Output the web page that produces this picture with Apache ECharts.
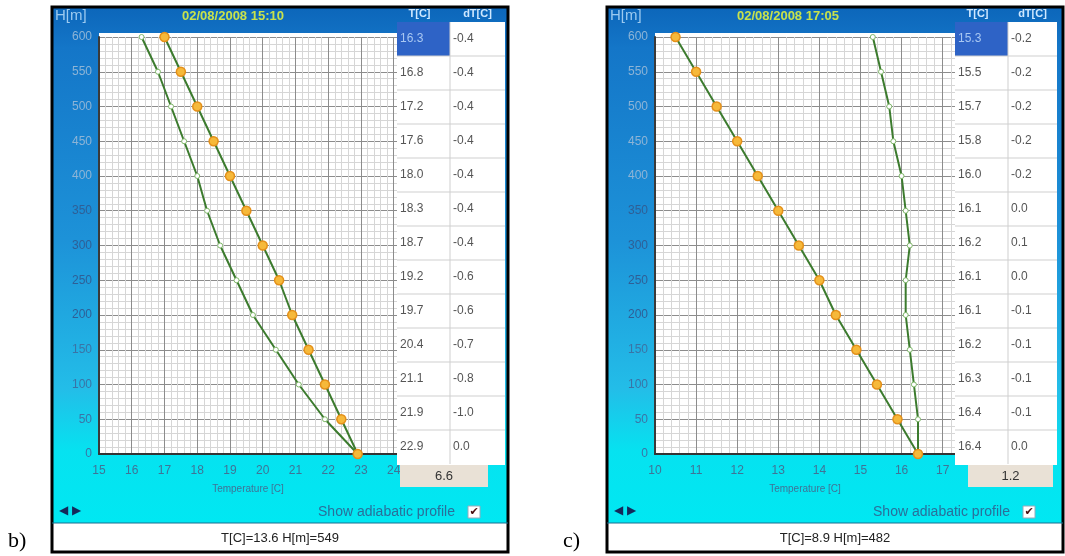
<!DOCTYPE html>
<html>
<head>
<meta charset="utf-8">
<script src="https://cdn.jsdelivr.net/npm/echarts@6/dist/echarts.min.js"></script>
<style>
  html, body { margin: 0; padding: 0; background: #fff; }
  #chart { width: 1065px; height: 556px; }
</style>
</head>
<body>
<div id="chart"></div>
<script>
// heights of the profile levels, bottom to top
const heights = [0, 50, 100, 150, 200, 250, 300, 350, 400, 450, 500, 550, 600]

// panel b) 02/08/2008 15:10
const tempB = [22.9, 21.9, 21.1, 20.4, 19.7, 19.2, 18.7, 18.3, 18.0, 17.6, 17.2, 16.8, 16.3]
const adiaB = [22.9, 22.4, 21.9, 21.4, 20.9, 20.5, 20.0, 19.5, 19.0, 18.5, 18.0, 17.5, 17.0]
const dTB = ['0.0', '-1.0', '-0.8', '-0.7', '-0.6', '-0.6', '-0.4', '-0.4', '-0.4', '-0.4', '-0.4', '-0.4', '-0.4']
const xTicksB = [15, 16, 17, 18, 19, 20, 21, 22, 23, 24]

// panel c) 02/08/2008 17:05
const tempC = [16.4, 16.4, 16.3, 16.2, 16.1, 16.1, 16.2, 16.1, 16.0, 15.8, 15.7, 15.5, 15.3]
const adiaC = [16.4, 15.9, 15.4, 14.9, 14.4, 14.0, 13.5, 13.0, 12.5, 12.0, 11.5, 11.0, 10.5]
const dTC = ['0.0', '-0.1', '-0.1', '-0.1', '-0.1', '0.0', '0.1', '0.0', '-0.2', '-0.2', '-0.2', '-0.2', '-0.2']
const xTicksC = [10, 11, 12, 13, 14, 15, 16, 17]

const panels = [
  { tag: 'b)', title: '02/08/2008 15:10', status: 'T[C]=13.6 H[m]=549', spread: '6.6',
    temp: tempB, adia: adiaB, dT: dTB, ticks: xTicksB, xMax: 24.1,
    frame: 52, plotLeft: 99, plotW: 298, tableX: 397, col1: 53, col2: 55, boxX: 400, boxW: 88 },
  { tag: 'c)', title: '02/08/2008 17:05', status: 'T[C]=8.9 H[m]=482', spread: '1.2',
    temp: tempC, adia: adiaC, dT: dTC, ticks: xTicksC, xMax: 17.3,
    frame: 607, plotLeft: 655, plotW: 300, tableX: 955, col1: 53, col2: 49, boxX: 968, boxW: 85 }
]

const font = 'Liberation Sans, Arial, sans-serif'
const lineGreen = '#3c7b2e'
const panelW = 456
const rowTop = 22
const rowH = 34

// height labels go from pale blue (top, on dark blue) to steel blue (bottom, on cyan)
function heightLabelColor(v) {
  return v >= 400 ? '#8db4d6' : v >= 200 ? '#2f5f96' : '#3a74a6'
}

const chart = echarts.init(document.getElementById('chart'))

const grids = []
const xAxes = []
const yAxes = []
const series = []
const graphics = []

panels.forEach((p, i) => {
  grids.push({
    left: p.plotLeft, top: 37, width: p.plotW, height: 417,
    show: true, backgroundColor: '#fff', borderWidth: 0
  })
  xAxes.push({
    gridIndex: i, type: 'value', min: p.ticks[0], max: p.xMax, interval: 1,
    name: 'Temperature [C]', nameLocation: 'middle', nameGap: 30,
    nameTextStyle: { color: '#3f7396', fontSize: 10, fontFamily: font },
    axisLine: { show: true, onZero: false, lineStyle: { color: '#333', width: 2 } },
    axisTick: { show: false },
    axisLabel: { color: '#3f7396', fontSize: 12, fontFamily: font, margin: 11, showMaxLabel: false },
    splitLine: { show: true, lineStyle: { color: '#8c8c8c', width: 1 } },
    minorTick: { show: false, splitNumber: 5 },
    minorSplitLine: { show: true, lineStyle: { color: '#d6d6d6', width: 1 } }
  })
  yAxes.push({
    gridIndex: i, type: 'value', min: 0, max: 600, interval: 50,
    axisLine: { show: true, lineStyle: { color: '#3a3a3a', width: 2 } },
    axisTick: { show: false },
    axisLabel: { color: heightLabelColor, fontSize: 12, fontFamily: font, margin: 7 },
    splitLine: { show: true, lineStyle: { color: '#8c8c8c', width: 1 } },
    minorTick: { show: false, splitNumber: 5 },
    minorSplitLine: { show: true, lineStyle: { color: '#d6d6d6', width: 1 } }
  })

  series.push({
    type: 'line', xAxisIndex: i, yAxisIndex: i,
    data: heights.map((h, k) => [p.adia[k], h]),
    symbol: 'circle', symbolSize: 9,
    itemStyle: { color: '#f6b93a', borderColor: '#e4901a', borderWidth: 1.5 },
    lineStyle: { color: lineGreen, width: 2 },
    animation: false, z: 3
  })
  series.push({
    type: 'line', xAxisIndex: i, yAxisIndex: i,
    data: heights.map((h, k) => [p.temp[k], h]),
    symbol: 'circle', symbolSize: 5,
    itemStyle: { color: '#fff', borderColor: '#7fb86a', borderWidth: 1 },
    lineStyle: { color: lineGreen, width: 2 },
    animation: false, z: 2
  })

  const fx = p.frame
  // panel background
  graphics.push({
    type: 'rect', z: -10,
    shape: { x: fx, y: 7, width: panelW, height: 516 },
    style: {
      fill: new echarts.graphic.LinearGradient(0, 0, 0, 1, [
        { offset: 0, color: '#0c66ba' },
        { offset: 0.08, color: '#1476c8' },
        { offset: 0.45, color: '#1d92d8' },
        { offset: 0.74, color: '#23bde8' },
        { offset: 0.86, color: '#06e2f0' },
        { offset: 1, color: '#00e8f2' }
      ])
    }
  })
  graphics.push({
    type: 'rect', z: -9,
    shape: { x: p.plotLeft, y: 33, width: p.plotW, height: 5 },
    style: { fill: '#fff' }
  })
  // status bar
  graphics.push({
    type: 'rect', z: -10,
    shape: { x: fx, y: 523, width: panelW, height: 29 },
    style: { fill: '#fff' }
  })
  graphics.push({
    type: 'text', z: 50, x: fx + panelW / 2, y: 538,
    style: { text: p.status, font: '13px ' + font, fill: '#222', align: 'center', verticalAlign: 'middle' }
  })
  // header texts
  graphics.push({
    type: 'text', z: 50, x: fx + 3, y: 16,
    style: { text: 'H[m]', font: '15px ' + font, fill: '#9ccaf0', verticalAlign: 'middle' }
  })
  graphics.push({
    type: 'text', z: 50, x: fx + 181, y: 16,
    style: { text: p.title, font: 'bold 13px ' + font, fill: '#c8e24c', align: 'center', verticalAlign: 'middle' }
  })
  graphics.push({
    type: 'text', z: 50, x: p.tableX + p.col1 / 2 - 4, y: 14,
    style: { text: 'T[C]', font: 'bold 11px ' + font, fill: '#cfe8ff', align: 'center', verticalAlign: 'middle' }
  })
  graphics.push({
    type: 'text', z: 50, x: p.tableX + p.col1 + p.col2 / 2, y: 14,
    style: { text: 'dT[C]', font: 'bold 11px ' + font, fill: '#cfe8ff', align: 'center', verticalAlign: 'middle' }
  })

  // table on the right
  const tw = p.col1 + p.col2
  graphics.push({
    type: 'rect', z: 40,
    shape: { x: p.tableX, y: rowTop, width: tw, height: rowH * 13 + 1 },
    style: { fill: '#fff' }
  })
  graphics.push({
    type: 'rect', z: 41,
    shape: { x: p.tableX, y: rowTop, width: p.col1, height: rowH },
    style: { fill: '#2e63c6' }
  })
  for (let r = 0; r < 13; r++) {
    const k = 12 - r
    const cy = rowTop + rowH * r + 17
    if (r < 12) {
      graphics.push({
        type: 'line', z: 42,
        shape: { x1: p.tableX, y1: rowTop + rowH * (r + 1), x2: p.tableX + tw, y2: rowTop + rowH * (r + 1) },
        style: { stroke: '#cfcfcf', lineWidth: 1 }
      })
    }
    graphics.push({
      type: 'text', z: 43, x: p.tableX + 3, y: cy,
      style: { text: p.temp[k].toFixed(1), font: '12px ' + font, fill: r === 0 ? '#a9c8f2' : '#555', verticalAlign: 'middle' }
    })
    graphics.push({
      type: 'text', z: 43, x: p.tableX + p.col1 + 3, y: cy,
      style: { text: p.dT[k], font: '12px ' + font, fill: '#555', verticalAlign: 'middle' }
    })
  }
  graphics.push({
    type: 'line', z: 42,
    shape: { x1: p.tableX + p.col1, y1: rowTop, x2: p.tableX + p.col1, y2: rowTop + rowH * 13 },
    style: { stroke: '#cfcfcf', lineWidth: 1 }
  })
  // spread box
  graphics.push({
    type: 'rect', z: 44,
    shape: { x: p.boxX, y: 465, width: p.boxW, height: 22 },
    style: { fill: '#e9e1d6' }
  })
  graphics.push({
    type: 'text', z: 45, x: p.boxX + p.boxW / 2, y: 476,
    style: { text: p.spread, font: '13px ' + font, fill: '#333', align: 'center', verticalAlign: 'middle' }
  })

  // bottom controls
  graphics.push({
    type: 'text', z: 50, x: fx + 7, y: 511,
    style: { text: '\u25C0 \u25B6', font: '12px DejaVu Sans, sans-serif', fill: '#14285a', verticalAlign: 'middle' }
  })
  graphics.push({
    type: 'text', z: 50, x: fx + 403, y: 512,
    style: { text: 'Show adiabatic profile', font: '14px ' + font, fill: '#2a6f9a', align: 'right', verticalAlign: 'middle' }
  })
  graphics.push({
    type: 'rect', z: 50,
    shape: { x: fx + 416, y: 506, width: 12, height: 12 },
    style: { fill: '#fff', stroke: '#9ab', lineWidth: 1 }
  })
  graphics.push({
    type: 'text', z: 51, x: fx + 422, y: 512,
    style: { text: '\u2714', font: '11px DejaVu Sans, sans-serif', fill: '#4a1010', align: 'center', verticalAlign: 'middle' }
  })

  // frame
  graphics.push({
    type: 'rect', z: 60,
    shape: { x: fx, y: 7, width: panelW, height: 545 },
    style: { fill: 'none', stroke: '#000', lineWidth: 3 }
  })
  graphics.push({
    type: 'line', z: 60,
    shape: { x1: fx, y1: 523, x2: fx + panelW, y2: 523 },
    style: { stroke: '#1a6f90', lineWidth: 1 }
  })
  // panel tag
  graphics.push({
    type: 'text', z: 60, x: fx - 44, y: 541,
    style: { text: p.tag, font: '22px Liberation Serif, Times New Roman, serif', fill: '#000', verticalAlign: 'middle' }
  })
})

chart.setOption({
  animation: false,
  backgroundColor: '#fff',
  grid: grids,
  xAxis: xAxes,
  yAxis: yAxes,
  series: series,
  graphic: graphics
})
</script>
</body>
</html>
